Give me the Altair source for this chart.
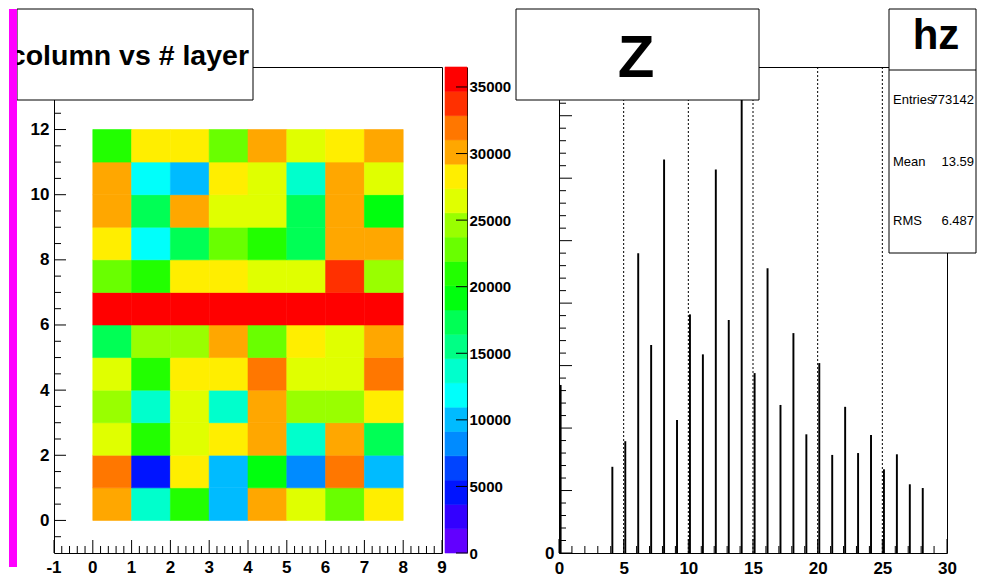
import altair as alt
import pandas as pd

# ---------------- data ----------------
# Left: 2D map, "# column" (x, 0..7) vs "# layer" (y, 0..11); one list per layer
col_ids = [0, 1, 2, 3, 4, 5, 6, 7]
layer_0 = [30100, 13700, 21000, 10000, 30200, 26500, 22800, 28300]
layer_1 = [31900, 4600, 28300, 10100, 19200, 8200, 31900, 10000]
layer_2 = [26400, 21000, 26500, 28300, 30100, 13700, 30100, 17300]
layer_3 = [24600, 13700, 26400, 13600, 30100, 24600, 24700, 28300]
layer_4 = [26500, 20900, 28300, 28200, 31900, 26500, 26400, 31900]
layer_5 = [17300, 24600, 24700, 30100, 22800, 28300, 26500, 30100]
layer_6 = [36200, 36000, 36300, 36100, 36400, 36200, 36000, 36500]
layer_7 = [22800, 21000, 28300, 28300, 26500, 26400, 33800, 24600]
layer_8 = [28300, 11900, 17300, 22800, 21000, 17300, 30100, 30100]
layer_9 = [30100, 17300, 30100, 26500, 26400, 17300, 30100, 19200]
layer_10 = [30100, 11900, 10000, 28300, 26500, 13700, 30100, 26400]
layer_11 = [21000, 28300, 28300, 22800, 30100, 26500, 28300, 30100]
layers = [layer_0, layer_1, layer_2, layer_3, layer_4, layer_5,
          layer_6, layer_7, layer_8, layer_9, layer_10, layer_11]

# Right: histogram hz (bin low edge, entries)
z_bins = [0, 4, 5, 6, 7, 8, 9, 10, 11, 12, 13, 14, 15, 16, 17, 18, 19, 20,
          21, 22, 23, 24, 25, 26, 27, 28]
z_counts = [26900, 13800, 17900, 48000, 33300, 63000, 21300, 38200, 31800,
            61400, 37300, 74000, 28800, 45600, 23700, 35200, 19000, 30400,
            15700, 23400, 16000, 18900, 13400, 15800, 11000, 10400]

# tick values / labels
heat_x_labels = [-1, 0, 1, 2, 3, 4, 5, 6, 7, 8, 9]
heat_y_labels = [0, 2, 4, 6, 8, 10, 12]
cbar_labels = [0, 5000, 10000, 15000, 20000, 25000, 30000, 35000]
hist_x_labels = [0, 5, 10, 15, 20, 25, 30]
hist_y_major = [0, 10000, 20000, 30000, 40000, 50000, 60000, 70000]
grid_x = [5, 10, 15, 20, 25]

heat_x_minor = [round(-1 + 0.2 * i, 1) for i in range(51) if i % 5 != 0]
heat_y_minor = [-0.5 + 0.5 * i for i in range(29) if (-0.5 + 0.5 * i) % 2 != 0]
hist_x_minor = [v for v in range(31) if v % 5 != 0]
hist_y_minor = [v for v in range(0, 77001, 2000) if v % 10000 != 0]

stats_names = ["Entries", "Mean", "RMS"]
stats_values = ["773142", "13.59", "6.487"]

# colour palette (ROOT "pretty" palette, 20 contour levels)
z_max = 36500
palette = ["#6200ff", "#3300ff", "#0014ff", "#0044ff", "#008bff", "#00bbff",
           "#00fffb", "#00ffcc", "#00ff85", "#00ff55", "#00ff0e", "#22ff00",
           "#69ff00", "#99ff00", "#e0ff00", "#ffee00", "#ffa700", "#ff7700",
           "#ff3000", "#ff0000"]

# ---------------- tables ----------------
heat_df = pd.DataFrame(
    [{"cx": c, "cx2": c + 1, "ly": r, "ly2": r + 1, "n": layers[r][i]}
     for r in range(len(layers)) for i, c in enumerate(col_ids)]
)
band = z_max / len(palette)
cbar_df = pd.DataFrame({
    "lo": [k * band for k in range(len(palette))],
    "hi": [(k + 1) * band for k in range(len(palette))],
    "mid": [(k + 0.5) * band for k in range(len(palette))],
})
hist_df = pd.DataFrame({"z": z_bins, "n": z_counts})

FONT = "Liberation Sans"
W, H = 388, 486
CB_W, CB_PANEL = 22, 111
one = pd.DataFrame({"a": [0]})

color_scale = alt.Scale(type="quantize", domain=[0, z_max], range=palette, nice=False)
hx = alt.Scale(domain=[-1, 9], nice=False, zero=False)
hy = alt.Scale(domain=[-1, 13.92], nice=False, zero=False)
cy = alt.Scale(domain=[0, z_max], nice=False, zero=False)
zx = alt.Scale(domain=[0, 30], nice=False, zero=False)
zy = alt.Scale(domain=[0, 77800], nice=False, zero=False)


def ticks_x(values, scale, length):
    return alt.Chart(pd.DataFrame({"v": values})).mark_rule(color="black", strokeWidth=1).encode(
        x=alt.X("v:Q", scale=scale, title=None),
        y=alt.value(H - length), y2=alt.value(H))


def ticks_y(values, scale, length, x0=0):
    return alt.Chart(pd.DataFrame({"v": values})).mark_rule(color="black", strokeWidth=1).encode(
        y=alt.Y("v:Q", scale=scale, title=None),
        x=alt.value(x0), x2=alt.value(x0 + length))


def box(x0, x1, y0, y1):
    return alt.Chart(one).mark_rect(fill="white", stroke="black", strokeWidth=1).encode(
        x=alt.value(x0), x2=alt.value(x1), y=alt.value(y0), y2=alt.value(y1))


def label(txt, x, y, size, weight="normal", align="center", baseline="alphabetic"):
    return alt.Chart(one).mark_text(font=FONT, fontSize=size, fontWeight=weight,
                                    align=align, baseline=baseline, color="black").encode(
        x=alt.value(x), y=alt.value(y), text=alt.value(txt))


# ---------------- left: heat map ----------------
cells = alt.Chart(heat_df).mark_rect(strokeWidth=0.6).encode(
    x=alt.X("cx:Q", scale=hx, title=None,
            axis=alt.Axis(values=heat_x_labels, labels=False)),
    x2="cx2:Q",
    y=alt.Y("ly:Q", scale=hy, title=None,
            axis=alt.Axis(values=heat_y_labels, labelExpr="'' + datum.value",
                          labelPadding=5, labelOverlap=False, labelFlush=False)),
    y2="ly2:Q",
    color=alt.Color("n:Q", scale=color_scale, legend=None),
    stroke=alt.Stroke("n:Q", scale=color_scale, legend=None),
)

# x tick labels of the map, placed through the x scale
heat_xlab = alt.Chart(pd.DataFrame({"v": heat_x_labels})).transform_calculate(
    t="'' + datum.v"
).mark_text(font=FONT, fontSize=17, fontWeight="bold", baseline="top",
            align="center", color="black").encode(
    x=alt.X("v:Q", scale=hx, title=None),
    y=alt.value(H + 7),
    text="t:N",
)

magenta = alt.Chart(one).mark_rect(fill="#ff00ff").encode(
    x=alt.value(-45), x2=alt.value(-37), y=alt.value(-58), y2=alt.value(500))

heat = alt.layer(
    cells,
    ticks_x(heat_x_labels, hx, 13), ticks_x(heat_x_minor, hx, 7),
    ticks_y(heat_y_labels, hy, 12), ticks_y(heat_y_minor, hy, 7),
    heat_xlab,
    box(-37, 199, -58, 33),
    label("column vs # layer", 195, -2, 28.5, "bold", align="right"),
    magenta,
).properties(width=W, height=H)

# ---------------- colour bar ----------------
cbar_rects = alt.Chart(cbar_df).mark_rect(strokeWidth=0.6).encode(
    x=alt.value(0), x2=alt.value(CB_W),
    y=alt.Y("lo:Q", scale=cy, title=None,
            axis=alt.Axis(orient="right", values=cbar_labels, format="d",
                          offset=CB_W - CB_PANEL,
                          domain=True, domainColor="black", labelPadding=2,
                          labelFontSize=15)),
    y2="hi:Q",
    color=alt.Color("mid:Q", scale=color_scale, legend=None),
    stroke=alt.Stroke("mid:Q", scale=color_scale, legend=None),
)
cbar = alt.layer(
    cbar_rects,
    ticks_y(cbar_labels, cy, 11, x0=CB_W - 11),
).properties(width=CB_PANEL, height=H, view=alt.ViewBackground(stroke=None))

# ---------------- right: histogram ----------------
grid = alt.Chart(pd.DataFrame({"g": grid_x})).mark_rule(
    color="black", strokeWidth=1, strokeDash=[2, 2]).encode(
    x=alt.X("g:Q", scale=zx, title=None))

bars = alt.Chart(hist_df).transform_calculate(
    z0="datum.z + 0.05", z1="datum.z + 0.2"
).mark_rect(color="black", strokeWidth=0).encode(
    x=alt.X("z0:Q", scale=zx, title=None,
            axis=alt.Axis(values=hist_x_labels, labelPadding=7)),
    x2="z1:Q",
    y=alt.Y("n:Q", scale=zy, title=None,
            axis=alt.Axis(values=[0], labelPadding=5)),
    y2=alt.datum(0),
)

stats_layers = [box(330, 417, -58, 186),
                alt.Chart(one).mark_rule(color="black", strokeWidth=1).encode(
                    x=alt.value(330), x2=alt.value(417), y=alt.value(3)),
                label("hz", 377, -18, 42, "bold")]
for i, (nm, vl) in enumerate(zip(stats_names, stats_values)):
    yy = [33, 95, 154][i]
    stats_layers.append(label(nm, 334, yy, 13, align="left", baseline="middle"))
    stats_layers.append(label(vl, 415, yy, 13, align="right", baseline="middle"))

hist = alt.layer(
    grid, bars,
    ticks_x(hist_x_labels, zx, 14), ticks_x(hist_x_minor, zx, 7),
    ticks_y(hist_y_major, zy, 13), ticks_y(hist_y_minor, zy, 7),
    box(-43, 200, -58, 33),
    label("Z", 77, 10, 60, "bold"),
    *stats_layers,
).properties(width=W, height=H)

chart = alt.hconcat(heat, cbar, hist, spacing=3, bounds="flush").properties(
    padding=0, background="white"
).configure_view(stroke="black", strokeWidth=1).configure_axis(
    labelFont=FONT, labelFontWeight="bold", labelFontSize=17, labelColor="black",
    labelOverlap=False, labelFlush=False,
    ticks=False, tickSize=0, domain=False, grid=False, title=None,
)

chart.save("out.html", embed_options={"renderer": "svg", "actions": False})
